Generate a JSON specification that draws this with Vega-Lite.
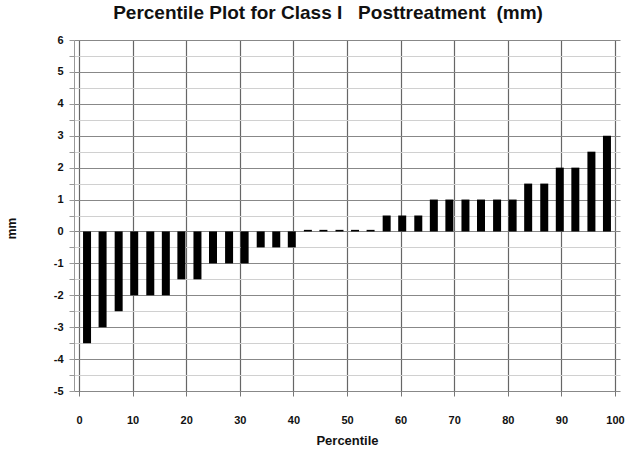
{
  "$schema": "https://vega.github.io/schema/vega-lite/v6.json",
  "width": 546,
  "height": 351,
  "autosize": {"type": "none"},
  "padding": {"left": 74, "top": 40, "right": 9, "bottom": 61},
  "background": "white",
  "title": {
    "text": "Percentile Plot for Class I\u00a0\u00a0 Posttreatment\u00a0 (mm)",
    "font": "Liberation Sans",
    "fontSize": 19,
    "fontWeight": "bold",
    "color": "#111",
    "offset": 11,
    "anchor": "middle",
    "dx": -19
  },
  "config": {
    "view": {"stroke": null},
    "axis": {"labelFont": "Liberation Sans", "titleFont": "Liberation Sans", "labelColor": "#111", "titleColor": "#111"}
  },
  "data": {
    "values": [
      {"p": 1.5, "mm": -3.5}, {"p": 4.4, "mm": -3}, {"p": 7.4, "mm": -2.5},
      {"p": 10.3, "mm": -2}, {"p": 13.3, "mm": -2}, {"p": 16.2, "mm": -2},
      {"p": 19.1, "mm": -1.5}, {"p": 22.1, "mm": -1.5}, {"p": 25.0, "mm": -1},
      {"p": 28.0, "mm": -1}, {"p": 30.9, "mm": -1}, {"p": 33.9, "mm": -0.5},
      {"p": 36.8, "mm": -0.5}, {"p": 39.7, "mm": -0.5}, {"p": 42.7, "mm": 0.05},
      {"p": 45.6, "mm": 0.05}, {"p": 48.6, "mm": 0.05}, {"p": 51.5, "mm": 0.05},
      {"p": 54.4, "mm": 0.05}, {"p": 57.4, "mm": 0.5}, {"p": 60.3, "mm": 0.5},
      {"p": 63.3, "mm": 0.5}, {"p": 66.2, "mm": 1}, {"p": 69.1, "mm": 1},
      {"p": 72.1, "mm": 1}, {"p": 75.0, "mm": 1}, {"p": 78.0, "mm": 1},
      {"p": 80.9, "mm": 1}, {"p": 83.8, "mm": 1.5}, {"p": 86.8, "mm": 1.5},
      {"p": 89.7, "mm": 2}, {"p": 92.6, "mm": 2}, {"p": 95.6, "mm": 2.5},
      {"p": 98.5, "mm": 3}
    ]
  },
  "mark": {"type": "bar", "width": 8, "color": "#000"},
  "encoding": {
    "x": {
      "field": "p",
      "type": "quantitative",
      "scale": {"domain": [0, 100], "nice": false, "zero": false},
      "axis": {
        "title": "Percentile",
        "titleFontSize": 13,
        "titleFontWeight": "bold",
        "titlePadding": 9,
        "values": [0, 10, 20, 30, 40, 50, 60, 70, 80, 90, 100],
        "labelFontSize": 11,
        "labelFontWeight": "bold",
        "labelPadding": 18,
        "tickSize": 5,
        "tickColor": "#777",
        "domain": false,
        "grid": true,
        "gridColor": "#666",
        "gridWidth": 1.2
      }
    },
    "y": {
      "field": "mm",
      "type": "quantitative",
      "scale": {"domain": [-5, 6], "nice": false},
      "axis": {
        "title": "mm",
        "titleFontSize": 12,
        "titleFontWeight": "bold",
        "titlePadding": 35,
        "titleY": 188,
        "values": [-5, -4.5, -4, -3.5, -3, -2.5, -2, -1.5, -1, -0.5, 0, 0.5, 1, 1.5, 2, 2.5, 3, 3.5, 4, 4.5, 5, 5.5, 6],
        "labelExpr": "datum.value % 1 === 0 ? '' + datum.value : ''",
        "labelFontSize": 11,
        "labelFontWeight": "bold",
        "labelPadding": 6,
        "tickSize": 5,
        "tickColor": "#999",
        "domain": true,
        "domainColor": "#999",
        "grid": true,
        "gridColor": {"condition": {"test": "datum.value % 1 === 0", "value": "#888"}, "value": "#d0d0d0"},
        "gridWidth": 1.2
      }
    }
  }
}
